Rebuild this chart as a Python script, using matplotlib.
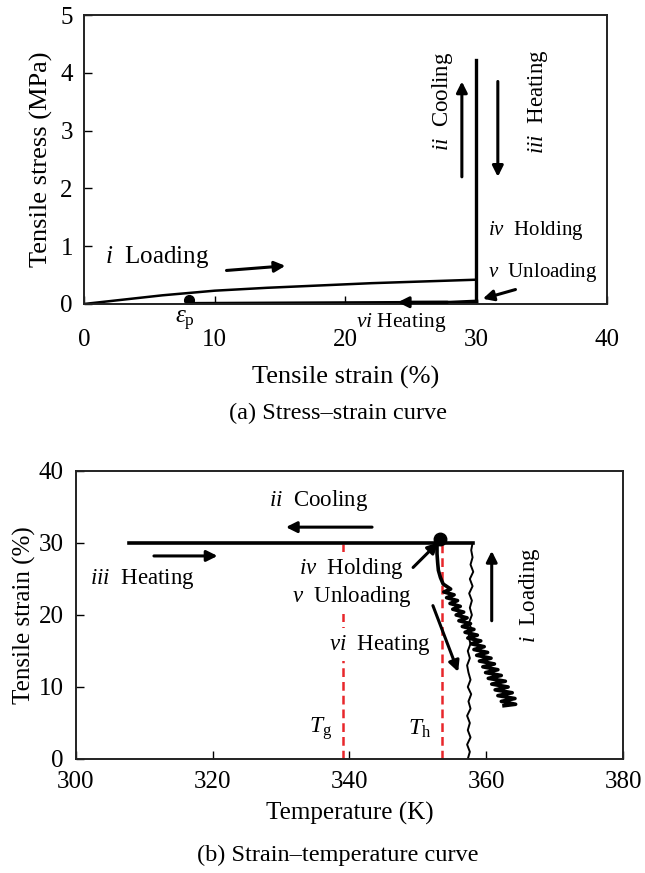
import numpy as np
import matplotlib
matplotlib.use("Agg")
import matplotlib.pyplot as plt

plt.rcParams['font.family'] = ['Liberation Serif', 'DejaVu Serif']
plt.rcParams['mathtext.fontset'] = 'custom'
plt.rcParams['mathtext.rm'] = 'Liberation Serif'
plt.rcParams['mathtext.it'] = 'Liberation Serif:italic'

# (a) stress-strain data
load_strain = [0, 2, 4, 6, 8, 10, 14, 18, 22, 26, 30]
load_stress = [0, 0.05, 0.10, 0.15, 0.19, 0.23, 0.28, 0.32, 0.36, 0.39, 0.42]
hold_strain = [30, 30]
hold_stress = [0, 4.23]
heat_strain = [30, 28, 8]
heat_stress = [0.04, 0.02, 0.0]
eps_p = (8.0, 0.07)

# (b) strain-temperature data
load_T = [357.3, 357.6, 357.2, 357.7, 357.3, 357.6, 357.2, 357.7, 357.4, 357.8,
          357.3, 357.7, 357.4, 357.2, 357.6, 357.3, 357.7, 357.4, 357.8, 357.5,
          357.9, 357.6, 357.9, 357.5, 358.0, 357.6, 358.1, 357.7, 358.0, 357.8, 358.0]
load_eps = list(range(0, 31))
cool_T = [358.0, 307.8]
cool_eps = [30, 30]
unload_T = [353.3, 352.8, 352.8, 352.9, 353.0, 353.3, 353.7,
            354.8, 353.8, 355.3, 354.2, 355.8, 354.7, 356.2, 355.1, 356.7, 355.6,
            357.2, 356.0, 357.7, 356.5, 358.2, 356.9, 358.7, 357.3, 359.2, 357.8,
            359.7, 358.2, 360.2, 358.6, 360.7, 359.0, 361.2, 359.5, 361.7, 359.9,
            362.2, 360.3, 362.8, 360.8, 363.2, 361.3, 363.8, 361.7, 364.2, 362.2,
            364.3, 362.6]
unload_eps = [30.3, 29.6, 28.5, 27.2, 26.2, 25.2, 24.3,
              23.6, 23.2, 22.8, 22.4, 22.0, 21.6, 21.2, 20.8, 20.4, 20.0,
              19.6, 19.2, 18.8, 18.4, 18.0, 17.6, 17.2, 16.8, 16.4, 16.0,
              15.6, 15.2, 14.8, 14.4, 14.0, 13.6, 13.2, 12.8, 12.4, 12.0,
              11.6, 11.2, 10.8, 10.4, 10.0, 9.6, 9.2, 8.8, 8.4, 8.0,
              7.6, 7.4]
hold_point = (353.3, 30.5)
T_g = 339.1
T_h = 353.5


def arrow(ax, tail, head):
    ax.annotate('', xy=head, xytext=tail,
                arrowprops=dict(arrowstyle='-|>', lw=2.2, color='k',
                                mutation_scale=16, shrinkA=0, shrinkB=0))


def style_axes(ax, xpad, ypad):
    for s in ax.spines.values():
        s.set_linewidth(1.4)
        s.set_color('#222222')
    ax.tick_params(direction='in', length=6, width=1, labelsize=18)
    ax.tick_params(axis='x', pad=xpad)
    ax.tick_params(axis='y', pad=ypad)


fig = plt.figure(figsize=(6.45, 8.73), dpi=100)

# ---------- (a) ----------
ax1 = fig.add_axes([0.1302, 0.6518, 0.8109, 0.3310])
ax1.plot(load_strain, load_stress, color='k', lw=1.8)
ax1.plot(hold_strain, hold_stress, color='k', lw=2.4)
ax1.plot(heat_strain, heat_stress, color='k', lw=3.0)
ax1.plot(*eps_p, 'o', color='k', ms=7)
ax1.set_xlim(0, 40)
ax1.set_ylim(0, 5)
ax1.set_xticks([0, 10, 20, 30, 40])
ax1.set_yticks([0, 1, 2, 3, 4, 5])
style_axes(ax1, 18, 8)
ax1.set_xlabel('Tensile strain (%)', fontsize=19, labelpad=11)
ax1.set_ylabel('Tensile stress (MPa)', fontsize=19, labelpad=5)

arrow(ax1, (10.9, 0.58), (15.4, 0.66))
arrow(ax1, (28.9, 2.20), (28.9, 3.85))
arrow(ax1, (31.65, 3.85), (31.65, 2.20))
arrow(ax1, (33.0, 0.25), (30.5, 0.09))
arrow(ax1, (27.8, 0.03), (24.0, 0.03))

ax1.text(1.6, 0.82, r'$i$  Loading', fontsize=18, va='center')
ax1.text(27.4, 3.5, r'$ii$  Cooling', fontsize=16.5, rotation=90, ha='center', va='center')
ax1.text(34.7, 3.5, r'$iii$  Heating', fontsize=16.5, rotation=90, ha='center', va='center')
ax1.text(30.9, 1.28, r'$iv$  Holding', fontsize=15, va='center')
ax1.text(30.9, 0.54, r'$v$  Unloading', fontsize=15, va='center')
ax1.text(7.7, -0.30, r'$\varepsilon_{\rm p}$', fontsize=18, ha='center', va='center',
         clip_on=False)
ax1.text(24.3, -0.32, r'$vi$ Heating', fontsize=15.5, ha='center', va='center',
         clip_on=False)
fig.text(0.524, 1 - 413 / 873, '(a) Stress\u2013strain curve', fontsize=17.5,
         ha='center', va='center')

# ---------- (b) ----------
ax2 = fig.add_axes([0.1178, 0.1306, 0.8481, 0.3299])
ax2.plot([T_g, T_g], [0, 30], color='#e8262b', lw=1.8, ls=(0, (3.5, 2)), zorder=1)
ax2.plot([T_h, T_h], [0, 30], color='#e8262b', lw=1.8, ls=(0, (3.5, 2)), zorder=1)
ax2.plot(cool_T, cool_eps, color='k', lw=2.6)
ax2.plot(load_T, load_eps, color='k', lw=1.4)
ax2.plot(unload_T, unload_eps, color='k', lw=2.6)
ax2.plot(*hold_point, 'o', color='k', ms=9)
ax2.set_xlim(300, 380)
ax2.set_ylim(0, 40)
ax2.set_xticks([300, 320, 340, 360, 380])
ax2.set_yticks([0, 10, 20, 30, 40])
style_axes(ax2, 9, 9)
ax2.set_xlabel('Temperature (K)', fontsize=18, labelpad=6)
ax2.set_ylabel('Tensile strain (%)', fontsize=18, labelpad=2)

arrow(ax2, (343.3, 32.2), (330.7, 32.2))
arrow(ax2, (311.4, 28.2), (320.7, 28.2))
arrow(ax2, (349.3, 26.6), (353.0, 30.1))
arrow(ax2, (352.2, 21.3), (355.9, 12.1))
arrow(ax2, (360.8, 19.2), (360.8, 28.9))

box = dict(facecolor='white', edgecolor='none', pad=3)
ax2.text(335.5, 35.9, r'$ii$  Cooling', fontsize=16.5, ha='center', va='center')
ax2.text(302.1, 25.0, r'$iii$  Heating', fontsize=16.5, va='center')
ax2.text(340.3, 26.4, r'$iv$  Holding', fontsize=16.5, ha='center', va='center', bbox=box)
ax2.text(340.3, 22.5, r'$v$  Unloading', fontsize=16.5, ha='center', va='center', bbox=box)
ax2.text(344.5, 15.9, r'$vi$  Heating', fontsize=16.5, ha='center', va='center', bbox=box)
ax2.text(366.3, 22.7, r'$i$  Loading', fontsize=16.5, rotation=90, ha='center', va='center')
ax2.text(337.4, 4.2, r'$T_{\rm g}$', fontsize=17, ha='right', va='center')
ax2.text(351.9, 4.2, r'$T_{\rm h}$', fontsize=17, ha='right', va='center')
fig.text(0.524, 1 - 855 / 873, '(b) Strain\u2013temperature curve', fontsize=17.5,
         ha='center', va='center')

fig.savefig('out.png', dpi=100)
